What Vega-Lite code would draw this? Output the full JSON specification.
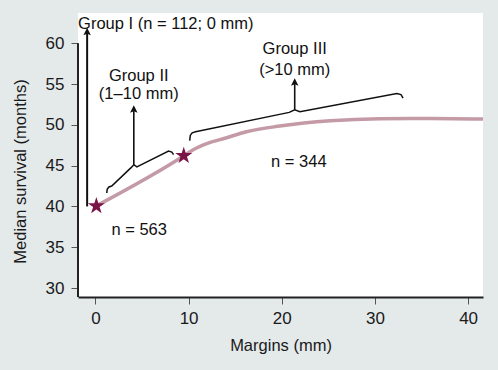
{
  "$schema": "https://vega.github.io/schema/vega-lite/v6.json",
  "width": 405,
  "height": 284,
  "autosize": {"type": "none"},
  "padding": {"left": 78, "top": 13, "right": 15, "bottom": 73},
  "background": "#e4e9ea",
  "config": {
    "view": {"stroke": null, "fill": "white"},
    "font": "Liberation Sans",
    "axis": {
      "labelFont": "Liberation Sans",
      "titleFont": "Liberation Sans",
      "labelFontSize": 17,
      "titleFontSize": 16.5,
      "titleFontWeight": "normal",
      "labelColor": "#1a1a1a",
      "titleColor": "#1a1a1a",
      "tickColor": "#555555",
      "tickSize": 7,
      "grid": false
    }
  },
  "datasets": {
    "curve": [
      {"x": 0, "y": 40},
      {"x": 9.5, "y": 46.2},
      {"x": 10.5, "y": 46.95},
      {"x": 12.1, "y": 47.75},
      {"x": 13.9, "y": 48.35},
      {"x": 16.2, "y": 49.15},
      {"x": 19.8, "y": 49.85},
      {"x": 25.2, "y": 50.5},
      {"x": 30.5, "y": 50.75},
      {"x": 36, "y": 50.78},
      {"x": 41.6, "y": 50.7}
    ],
    "brackets": [
      {"g": "II", "o": 1, "x": 1.22, "y": 41.64},
      {"g": "II", "o": 2, "x": 1.26, "y": 42.1},
      {"g": "II", "o": 3, "x": 1.45, "y": 42.38},
      {"g": "II", "o": 4, "x": 1.75, "y": 42.5},
      {"g": "II", "o": 5, "x": 3.8, "y": 44.72},
      {"g": "II", "o": 6, "x": 4.12, "y": 45.12},
      {"g": "II", "o": 7, "x": 4.45, "y": 44.85},
      {"g": "II", "o": 8, "x": 7.85, "y": 46.78},
      {"g": "II", "o": 9, "x": 8.2, "y": 46.65},
      {"g": "II", "o": 10, "x": 8.39, "y": 46.35},
      {"g": "III", "o": 1, "x": 10.12, "y": 48.07},
      {"g": "III", "o": 2, "x": 10.18, "y": 48.7},
      {"g": "III", "o": 3, "x": 10.38, "y": 49.02},
      {"g": "III", "o": 4, "x": 10.75, "y": 49.15},
      {"g": "III", "o": 5, "x": 20.8, "y": 51.52},
      {"g": "III", "o": 6, "x": 21.39, "y": 51.83},
      {"g": "III", "o": 7, "x": 21.95, "y": 51.6},
      {"g": "III", "o": 8, "x": 32.35, "y": 53.82},
      {"g": "III", "o": 9, "x": 32.8, "y": 53.7},
      {"g": "III", "o": 10, "x": 33.02, "y": 53.27}
    ],
    "arrows": [
      {"x": -0.89, "y": 40.0, "y2": 61.5, "ty": 61.9, "w": 2},
      {"x": 4.12, "y": 45.12, "y2": 52.0, "ty": 52.4, "w": 1.6},
      {"x": 21.39, "y": 51.83, "y2": 55.3, "ty": 55.7, "w": 1.6}
    ],
    "stars": [
      {"x": 0.1, "y": 40.05},
      {"x": 9.48, "y": 46.2}
    ],
    "labels": [
      {"x": 7.55, "y": 62.35, "t": "Group I (n = 112; 0 mm)"},
      {"x": 4.65, "y": 56.0, "t": "Group II"},
      {"x": 4.65, "y": 53.8, "t": "(1–10 mm)"},
      {"x": 21.39, "y": 59.3, "t": "Group III"},
      {"x": 21.39, "y": 56.73, "t": "(>10 mm)"},
      {"x": 21.83, "y": 45.47, "t": "n = 344"},
      {"x": 4.7, "y": 37.14, "t": "n = 563"}
    ]
  },
  "layer": [
    {
      "data": {"name": "curve"},
      "mark": {"type": "line", "color": "#c39aa6", "strokeWidth": 3.5, "interpolate": "monotone"},
      "encoding": {
        "x": {
          "field": "x", "type": "quantitative",
          "scale": {"domain": [-1.87, 41.6], "nice": false, "zero": false},
          "axis": {"values": [0, 10, 20, 30, 40], "title": "Margins (mm)", "domainColor": "#222222", "domainWidth": 2, "labelPadding": 6, "titlePadding": 11}
        },
        "y": {
          "field": "y", "type": "quantitative",
          "scale": {"domain": [28.9, 63.7], "nice": false, "zero": false},
          "axis": {"values": [30, 35, 40, 45, 50, 55, 60], "title": "Median survival (months)", "domain": false, "labelPadding": 7, "titleX": -58, "titleY": 158, "titleBaseline": "middle"}
        }
      }
    },
    {
      "data": {"values": [{}]},
      "mark": {"type": "rule", "color": "#222222", "strokeWidth": 2},
      "encoding": {
        "x": {"datum": -1.87, "type": "quantitative"},
        "y": {"datum": 28.9, "type": "quantitative"},
        "y2": {"datum": 60}
      }
    },
    {
      "data": {"name": "brackets"},
      "mark": {"type": "line", "color": "#111111", "strokeWidth": 1.5, "interpolate": "linear"},
      "encoding": {
        "x": {"field": "x", "type": "quantitative"},
        "y": {"field": "y", "type": "quantitative"},
        "detail": {"field": "g"},
        "order": {"field": "o"}
      }
    },
    {
      "data": {"name": "arrows"},
      "mark": {"type": "rule", "color": "#111111"},
      "encoding": {
        "x": {"field": "x", "type": "quantitative"},
        "y": {"field": "y", "type": "quantitative"},
        "y2": {"field": "y2"},
        "strokeWidth": {"field": "w", "type": "quantitative", "scale": null}
      }
    },
    {
      "data": {"name": "arrows"},
      "mark": {"type": "point", "filled": true, "color": "#111111", "opacity": 1, "size": 225, "shape": "M0,0L0.5,1L0,0.8L-0.5,1Z"},
      "encoding": {
        "x": {"field": "x", "type": "quantitative"},
        "y": {"field": "ty", "type": "quantitative"}
      }
    },
    {
      "data": {"name": "stars"},
      "mark": {"type": "point", "filled": true, "color": "#7a1446", "opacity": 1, "size": 320, "shape": "M0,-1L0.2245,-0.309L0.951,-0.309L0.363,0.118L0.588,0.809L0,0.382L-0.588,0.809L-0.363,0.118L-0.951,-0.309L-0.2245,-0.309Z"},
      "encoding": {
        "x": {"field": "x", "type": "quantitative"},
        "y": {"field": "y", "type": "quantitative"}
      }
    },
    {
      "data": {"name": "labels"},
      "mark": {"type": "text", "font": "Liberation Sans", "fontSize": 16.5, "color": "#111111", "align": "center", "baseline": "middle"},
      "encoding": {
        "x": {"field": "x", "type": "quantitative"},
        "y": {"field": "y", "type": "quantitative"},
        "text": {"field": "t"}
      }
    }
  ]
}
